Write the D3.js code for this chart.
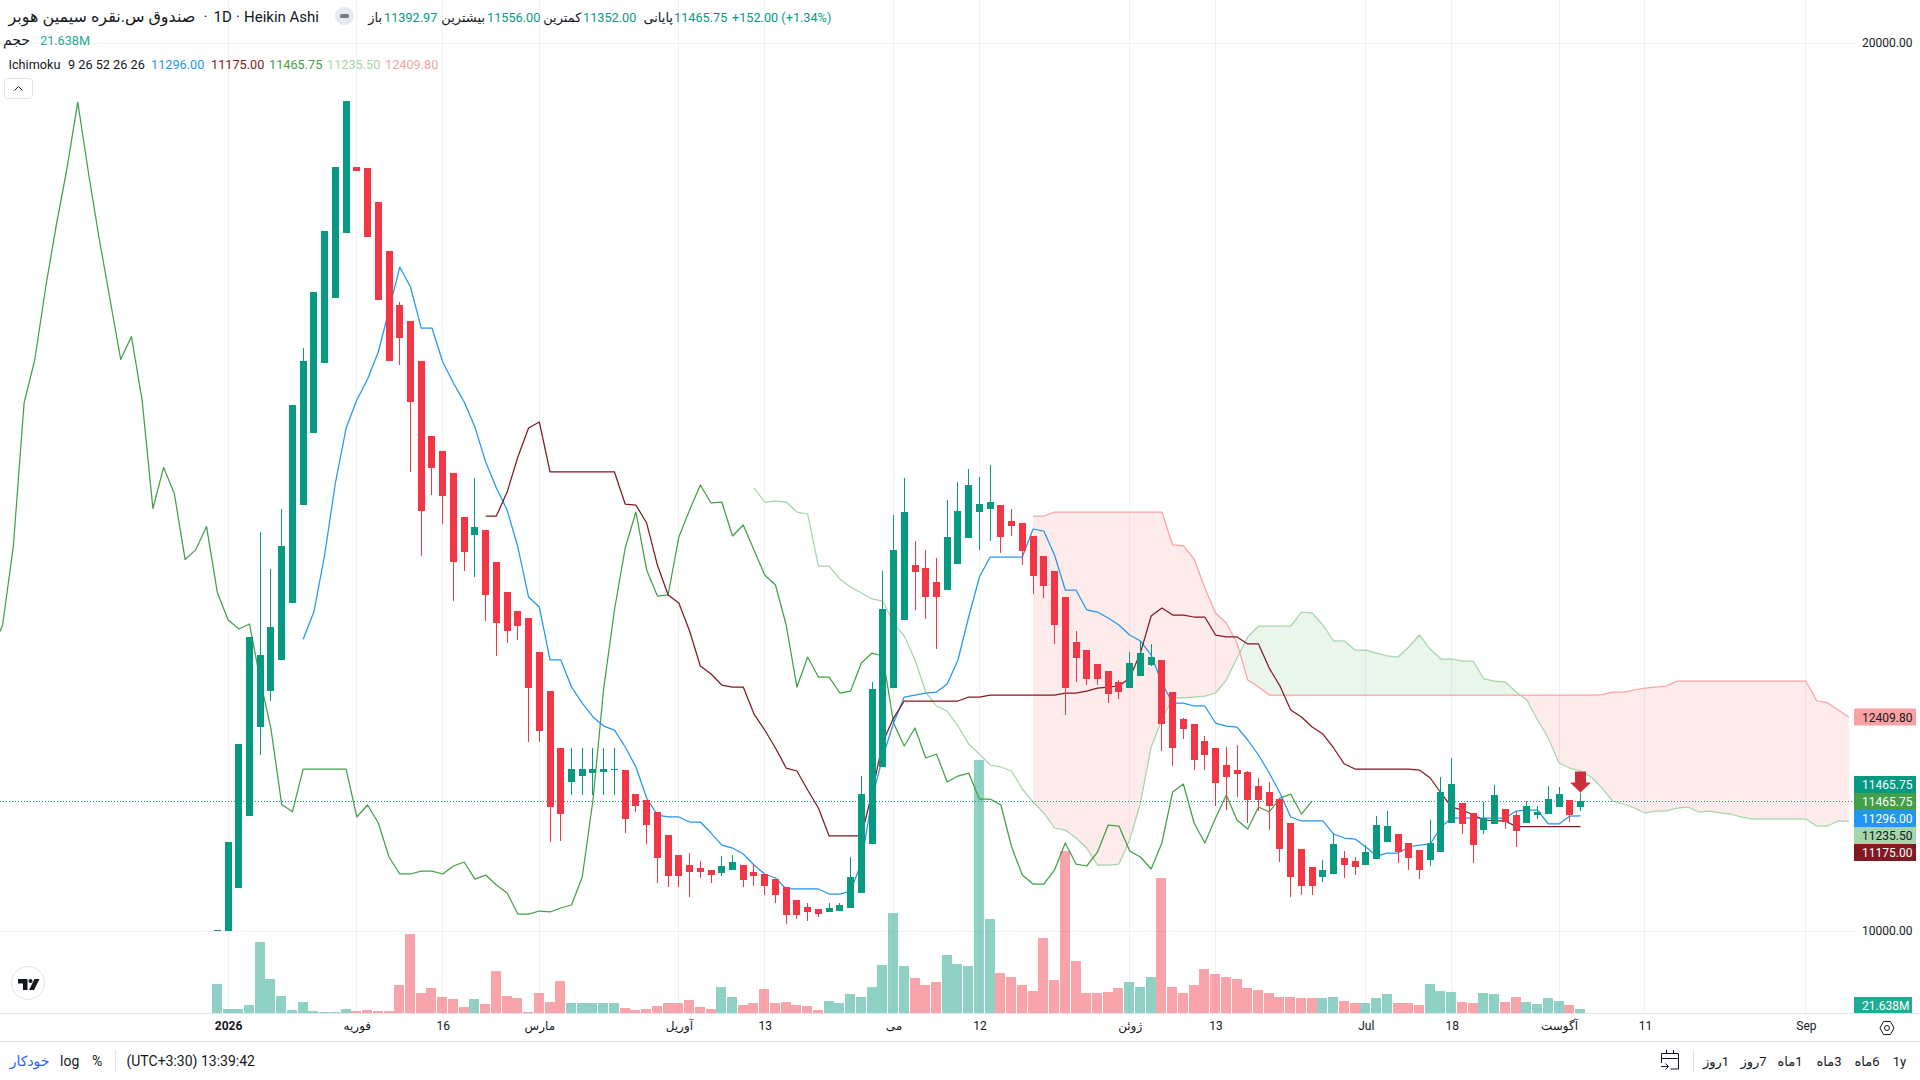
<html>
<head>
    <meta charset="utf-8">
    <script src="https://d3js.org/d3.v7.min.js"></script>
    <style type="text/css">
        html, body { margin: 0; padding: 0; background: #fff; overflow: hidden; }
        svg { display: block; }
        text { font-family: Roboto, "DejaVu Sans", sans-serif; fill: #131722; }
        .axis path { display: none; }
        .axis text { font-size: 12px; }
    </style>
</head>
<body>
    <script type="text/javascript">
        // heikin ashi candles, index 0 is the last bar of december
        var candleOpen = [10000,10000,10484,11295,12300,12706,13055,13697,14797,15611,16400,17131,17863,18603,18592,18209,17657,17049,16869,16419,15574,15405,15157,14662,14463,14516,14155,13817,13603,13525,13142,12702,12061,11681,11749,11779,11794,11813,11813,11542,11475,11340,11081,10856,10743,10706,10687,10656,10690,10743,10664,10642,10585,10495,10349,10270,10247,10217,10228,10259,10431,10983,11850,12740,13505,14121,14088,13930,13843,14136,14429,14722,14752,14797,14617,14594,14448,14223,14054,13761,13254,13164,13007,12928,12804,12740,12875,12995,13052,12691,12387,12331,12139,12061,11869,11813,11790,11633,11565,11486,11216,10923,10720,10608,10642,10822,10788,10743,10811,11002,11092,10991,10912,10799,10889,11216,11441,11329,11137,11205,11374,11306,11216,11306,11317,11396,11475,11392.97];
        var candleHigh = [10011,11002,12106,13311,14493,14076,14752,15923,16565,17196,17883,18603,19347,18603,18592,18209,17657,17083,16869,16419,15574,15405,15157,14662,15101,14516,14155,13817,13603,13525,13142,12702,12061,12061,12061,12061,12061,12061,11813,11542,11475,11340,11081,10856,10878,10788,10687,10844,10856,10743,10754,10642,10585,10495,10349,10315,10247,10315,10315,10833,11745,12804,14054,14684,15101,14392,14290,14200,14853,15056,15202,15112,15247,14797,14752,14594,14448,14223,14054,13761,13378,13164,13007,12928,12826,13142,13266,13232,13052,12691,12398,12331,12196,12061,12072,12094,11802,11723,11678,11486,11216,10923,10720,10799,11103,10901,10833,10968,11295,11351,11092,10991,10912,11250,11734,11948,11441,11329,11452,11644,11374,11351,11464,11407,11633,11621,11475,11556];
        var candleLow = [10000,10000,10484,11295,11982,12593,13055,13697,14797,15611,16400,17131,17863,18562,17818,17109,16422,16377,15172,14226,14913,14586,13719,14057,13990,13494,13100,13243,13277,12132,12132,11005,11017,11531,11531,11531,11531,11531,11107,11343,10983,10544,10499,10499,10386,10600,10544,10622,10690,10499,10510,10409,10318,10079,10138,10112,10157,10217,10228,10259,10431,10983,11850,12740,13505,13615,13513,13175,13843,14136,14429,14294,14395,14260,14448,14125,13798,13753,13235,12436,12807,12773,12773,12571,12616,12740,12875,12984,12030,11861,12165,11813,11813,11407,11362,11509,11216,11351,11137,10777,10383,10405,10405,10551,10642,10597,10630,10743,10811,11002,10765,10687,10585,10732,10889,11216,11092,10765,11092,11205,11148,10946,11216,11261,11317,11396,11227,11352];
        var candleClose = [10011,11002,12106,13311,13108,13423,14335,15923,16419,17196,17883,18603,19347,18562,17818,17109,16422,16681,15960,14733,15217,14902,14159,14271,14549,13787,13472,13382,13438,12740,12255,11399,11321,11824,11824,11824,11824,11824,11264,11411,11197,10825,10622,10622,10667,10667,10630,10732,10777,10577,10622,10510,10409,10183,10183,10217,10195,10259,10293,10608,11542,12725,13626,14290,14718,14043,13764,13764,14437,14729,15022,14808,14831,14440,14561,14282,14001,13888,13449,12740,13077,12841,12841,12672,12694,13018,13130,13085,12334,12064,12278,11925,11982,11666,11734,11768,11475,11475,11407,10923,10608,10506,10506,10687,10979,10743,10720,10889,11193,11182,10889,10822,10687,10991,11565,11655,11205,10968,11272,11531,11227,11126,11407,11340,11486,11542,11306,11465.75];
        // volume in millions
        var volume = [147,22,22,42,357,172,87,17,57,12,7,7,22,12,17,12,12,142,397,102,127,82,72,32,72,47,212,87,77,7,102,57,162,52,52,52,52,52,27,17,22,37,52,52,67,30,20,130,80,40,50,120,50,55,40,37,17,62,52,97,82,132,242,502,237,177,142,157,292,247,237,1265,472,202,182,142,112,377,167,812,262,102,102,107,127,157,132,182,677,132,102,142,222,197,182,172,127,117,102,82,82,77,77,77,82,62,52,52,77,97,52,52,42,147,112,107,57,52,102,97,57,82,57,47,77,62,42,21.638];

        // ichimoku, each line has its own first bar index
        var tenkanStart = 8;
        var tenkan = [13285,13595,14234,15045,15664,15979,16216,16520,16993,17477,17252,16790,16790,16407,16171,15957,15675,15281,14989,14741,14324,13761,13648,13052,13052,12747,12567,12410,12308,12263,12072,11847,11497,11306,11284,11284,11227,11227,11103,10968,10934,10867,10743,10642,10597,10473,10473,10473,10473,10416,10416,10450,10765,11497,11959,12342,12635,12657,12680,12691,12781,13052,13536,13986,14211,14211,14211,14211,14527,14504,14234,13840,13840,13615,13592,13525,13446,13333,13266,13108,12793,12567,12567,12534,12534,12342,12308,12297,12151,11982,11779,11554,11284,11239,11239,11239,11092,11047,11036,10946,10844,10878,10878,10946,10968,10979,11171,11272,11272,11272,11272,11272,11272,11351,11362,11362,11205,11205,11295,11296];
        var kijunStart = 25;
        var kijun = [14673,14673,14943,15338,15664,15732,15169,15169,15169,15169,15169,15169,15169,14808,14797,14594,14121,13784,13693,13378,12984,12894,12770,12747,12747,12443,12263,12061,11835,11802,11588,11385,11070,11070,11070,11070,11554,12128,12398,12590,12590,12590,12590,12590,12590,12635,12635,12657,12657,12657,12657,12657,12657,12657,12680,12680,12702,12736,12747,12759,12849,13130,13547,13637,13558,13558,13536,13536,13333,13311,13311,13232,13232,12961,12759,12489,12410,12297,12218,12061,11880,11824,11824,11824,11824,11824,11824,11813,11723,11554,11396,11362,11306,11250,11239,11239,11175,11175,11175,11175,11175,11175,11175];
        var chikouStart = -21;
        var chikou = [13164,13446,14335,15946,16436,17241,17950,18592,19335,18536,17793,17117,16436,16695,15973,14758,15221,14924,14183,14295,14554,13813,13504,13401,13457,12826,12275,11424,11344,11824,11824,11824,11824,11824,11284,11419,11216,10833,10642,10642,10675,10675,10642,10732,10777,10585,10630,10518,10428,10191,10191,10225,10214,10259,10293,10608,11475,12736,13615,14313,14718,14065,13772,13784,14437,14741,15022,14820,14831,14448,14572,14290,14009,13896,13446,12747,13085,12860,12860,12680,12702,13018,13130,13097,12342,12083,12286,11948,11993,11678,11745,11779,11486,11486,11419,10946,10630,10529,10529,10687,10991,10754,10732,10889,11193,11182,10901,10833,10698,10991,11565,11655,11216,10991,11272,11531,11250,11148,11396,11340,11497,11542,11317,11465.75];
        var senkouAStart = 50;
        var senkouA = [14989,14831,14842,14831,14718,14696,14110,14110,13964,13874,13806,13739,13716,13468,13322,13052,12691,12534,12477,12308,12106,11993,11869,11847,11802,11599,11452,11329,11160,11137,11047,10934,10743,10743,10754,11025,11441,12072,12376,12624,12624,12635,12646,12680,12826,13074,13311,13434,13434,13434,13434,13592,13581,13446,13266,13266,13164,13164,13130,13097,13085,13198,13333,13175,13063,13063,13040,13040,12838,12815,12804,12691,12601,12376,12173,11892,11835,11802,11734,11610,11464,11430,11385,11329,11351,11351,11385,11396,11340,11351,11329,11317,11284,11261,11261,11261,11261,11261,11261,11182,11182,11239,11235.5];
        var senkouBStart = 76;
        var senkouB = [14673,14673,14718,14718,14718,14718,14718,14718,14718,14718,14718,14718,14718,14347,14336,14189,13862,13581,13468,13243,12826,12747,12657,12657,12657,12657,12657,12657,12657,12657,12657,12657,12657,12657,12657,12657,12657,12657,12657,12657,12657,12657,12657,12657,12657,12657,12657,12657,12657,12657,12657,12657,12657,12661,12691,12691,12714,12736,12747,12759,12815,12815,12815,12815,12815,12815,12815,12815,12815,12815,12815,12815,12815,12593,12571,12488,12409.8];

        // time axis labels
        var tickBars = [1,13,21,30,43,51,63,71,85,93,107,115,125,133,148];
        var tickLabels = ["2026","فوریه","16","مارس","آوریل","13","می","12","ژوئن","13","Jul","18","آگوست","11","Sep"];
        var priceTicks = [20000,10000];
        var rangeButtons = [["1روز",1716],["7روز",1753.5],["1ماه",1790],["3ماه",1829],["6ماه",1867],["1y",1899.5]];

        var lastPrice = 11465.75;
        var green = "#089981", red = "#F23645";
        var colTenkan = "#2196F3", colKijun = "#801922", colChikou = "#43A047", colA = "#A5D6A7", colB = "#FAA1A4";
        var paneRight = 1854, paneBottom = 1013.5;

        var svg = d3.select("body").append("svg").attr("width", 1920).attr("height", 1080);

        var x = d3.scaleLinear().domain([0, 127]).range([216.8, 1580]);
        var y = d3.scaleLinear().domain([10000, 20000]).range([931, 43]);
        var yVol = d3.scaleLinear().domain([0, 1265]).range([1013, 760]);
        var bars = d3.range(candleOpen.length);
        function isUp(i) { return candleClose[i] >= candleOpen[i]; }
        function cx(i) { return Math.round(x(i)); }

        // grid
        var grid = svg.append("g").attr("stroke", "#f0f1f5").attr("stroke-width", 1);
        grid.selectAll(".v").data(tickBars).enter().append("line")
            .attr("x1", function (d) { return cx(d) + 0.5; }).attr("x2", function (d) { return cx(d) + 0.5; })
            .attr("y1", 0).attr("y2", paneBottom);
        grid.selectAll(".h").data(priceTicks).enter().append("line")
            .attr("x1", 0).attr("x2", paneRight)
            .attr("y1", function (d) { return Math.round(y(d)) + 0.5; }).attr("y2", function (d) { return Math.round(y(d)) + 0.5; });

        // volume
        svg.append("g").attr("shape-rendering", "crispEdges").selectAll("rect").data(bars).enter().append("rect")
            .attr("x", function (i) { return cx(i) - 5; })
            .attr("width", 10)
            .attr("y", function (i) { return yVol(volume[i]); })
            .attr("height", function (i) { return yVol(0) - yVol(volume[i]); })
            .attr("fill", function (i) { return isUp(i) ? green : red; })
            .attr("fill-opacity", 0.45);

        // cloud, cut where the two spans cross
        function series(values, start) {
            return values.map(function (v, k) { return {i: start + k, v: v}; });
        }
        var spanA = series(senkouA, senkouAStart), spanB = series(senkouB, senkouBStart);
        var pairs = spanB.map(function (d) {
            return {i: d.i, a: senkouA[d.i - senkouAStart], b: d.v};
        });
        var parts = [], part = [pairs[0]];
        for (var k = 1; k < pairs.length; k++) {
            var p = pairs[k - 1], q = pairs[k];
            if ((p.a - p.b) * (q.a - q.b) < 0) {
                var t = (p.a - p.b) / ((p.a - p.b) - (q.a - q.b));
                var cross = {i: p.i + t, a: p.a + t * (q.a - p.a), b: p.a + t * (q.a - p.a)};
                part.push(cross);
                parts.push(part);
                part = [cross];
            }
            part.push(q);
        }
        parts.push(part);
        var cloud = d3.area()
            .x(function (d) { return x(d.i) + 0.5; })
            .y0(function (d) { return y(d.a); })
            .y1(function (d) { return y(d.b); });
        svg.append("g").selectAll("path").data(parts).enter().append("path")
            .attr("d", cloud)
            .attr("fill", function (d) { return d3.sum(d, function (e) { return e.a - e.b; }) > 0 ? colChikou : red; })
            .attr("fill-opacity", function (d) { return d3.sum(d, function (e) { return e.a - e.b; }) > 0 ? 0.11 : 0.1; });

        // ichimoku lines
        var line = d3.line()
            .x(function (d) { return x(d.i) + 0.5; })
            .y(function (d) { return y(d.v); });
        var lines = [
            [spanA, colA], [spanB, colB],
            [series(chikou, chikouStart), colChikou],
            [series(tenkan, tenkanStart), colTenkan],
            [series(kijun, kijunStart), colKijun]
        ];
        svg.append("g").selectAll("path").data(lines).enter().append("path")
            .attr("d", function (d) { return line(d[0]); })
            .attr("fill", "none")
            .attr("stroke", function (d) { return d[1]; })
            .attr("stroke-width", 1.25)
            .attr("stroke-linejoin", "round");

        // last price line
        svg.append("line").attr("x1", 0).attr("x2", paneRight)
            .attr("y1", Math.round(y(lastPrice)) + 0.5).attr("y2", Math.round(y(lastPrice)) + 0.5)
            .attr("stroke", green).attr("stroke-dasharray", "1 2");

        // candles
        var candle = svg.append("g").attr("shape-rendering", "crispEdges").selectAll("g").data(bars).enter().append("g")
            .attr("fill", function (i) { return isUp(i) ? green : red; });
        candle.append("rect")
            .attr("x", function (i) { return cx(i); })
            .attr("width", 1)
            .attr("y", function (i) { return y(candleHigh[i]); })
            .attr("height", function (i) { return y(candleLow[i]) - y(candleHigh[i]); });
        candle.append("rect")
            .attr("x", function (i) { return cx(i) - 3; })
            .attr("width", 7)
            .attr("y", function (i) { return y(Math.max(candleOpen[i], candleClose[i])); })
            .attr("height", function (i) { return Math.max(1, Math.abs(y(candleOpen[i]) - y(candleClose[i]))); });

        // sell arrow on the last bar
        var ax = cx(127) + 0.5;
        svg.append("path")
            .attr("d", "M" + (ax - 5.5) + ",771.5h11v11h5l-10.5,10l-10.5,-10h5z")
            .attr("fill", "#cb2e3d");

        // time axis
        var xAxis = d3.axisBottom(x).tickValues(tickBars).tickSize(0).tickPadding(8)
            .tickFormat(function (d, n) { return tickLabels[n]; });
        var gx = svg.append("g").attr("class", "axis").attr("transform", "translate(0.5," + paneBottom + ")").call(xAxis);
        gx.selectAll("text").attr("fill", null).style("fill", "#131722")
            .style("font-weight", function (d) { return d == 1 ? "bold" : null; });
        svg.append("line").attr("x1", 0).attr("x2", 1920).attr("y1", 1013.5).attr("y2", 1013.5).attr("stroke", "#e0e3eb");
        svg.append("line").attr("x1", 0).attr("x2", 1920).attr("y1", 1041.5).attr("y2", 1041.5).attr("stroke", "#e0e3eb");

        // price axis
        var yAxis = d3.axisRight(y).tickValues(priceTicks).tickSize(0).tickPadding(0)
            .tickFormat(function (d) { return d3.format(".2f")(d); });
        var gy = svg.append("g").attr("class", "axis").attr("transform", "translate(1862,0)").call(yAxis);
        gy.selectAll("text").style("fill", "#131722");

        // price labels
        var priceBoxes = [
            [d3.format(".2f")(senkouB[senkouB.length - 1]), colB, "#131722", y(senkouB[senkouB.length - 1])],
            [d3.format(".2f")(lastPrice), green, "#fff", 784.5],
            [d3.format(".2f")(chikou[chikou.length - 1]), colChikou, "#fff", 801.5],
            [d3.format(".2f")(tenkan[tenkan.length - 1]), colTenkan, "#fff", 818.5],
            [d3.format(".2f")(senkouA[senkouA.length - 1]), colA, "#131722", 835.5],
            [d3.format(".2f")(kijun[kijun.length - 1]), colKijun, "#fff", 852.5]
        ];
        var box = svg.append("g").selectAll("g").data(priceBoxes).enter().append("g")
            .attr("transform", function (d) { return "translate(1854," + d[3] + ")"; });
        box.append("rect").attr("x", 0).attr("y", -8.5).attr("width", 62).attr("height", 17)
            .attr("fill", function (d) { return d[1]; });
        box.append("text").attr("x", 8).attr("y", 4.5).attr("font-size", 12)
            .style("fill", function (d) { return d[2]; })
            .text(function (d) { return d[0]; });
        svg.append("rect").attr("x", 1854).attr("y", 997).attr("width", 58).attr("height", 16).attr("fill", "#22ab94");
        svg.append("text").attr("x", 1862).attr("y", 1009.5).attr("font-size", 12).style("fill", "#fff").text("21.638M");

        // legend
        function label(text, px, py, color, anchor, size) {
            return svg.append("text").attr("x", px).attr("y", py)
                .attr("text-anchor", anchor || "start")
                .attr("font-size", size || 12.7)
                .style("fill", color || "#131722")
                .text(text);
        }
        label("صندوق س.نقره سیمین هوبر", 8.5, 22, "#131722", "start", 16).attr("direction", "rtl").attr("text-anchor", "end");
        label("·", 205.5, 22, "#131722", "middle", 15);
        label("1D", 213.5, 22, "#131722", "start", 15);
        label("·", 238, 22, "#131722", "middle", 15);
        label("Heikin Ashi", 244, 22, "#131722", "start", 15);
        svg.append("rect").attr("x", 335).attr("y", 7).attr("width", 19).attr("height", 18).attr("rx", 9).attr("fill", "#e8e9ee");
        svg.append("rect").attr("x", 340).attr("y", 14).attr("width", 9).attr("height", 4).attr("rx", 1.5).attr("fill", "#787b86");

        var ohlc = [
            ["باز", 382, "11392.97", 384],
            ["بیشترین", 485, "11556.00", 487],
            ["کمترین", 581.5, "11352.00", 583],
            ["پایانی", 673, "11465.75", 674]
        ];
        ohlc.forEach(function (d) {
            label(d[0], d[1], 22, "#131722", "end", 13);
            label(d[2], d[3], 22, green);
        });
        label("+152.00 (+1.34%)", 732, 22, green);
        label("حجم", 30, 45, "#131722", "end", 14);
        label("21.638M", 40, 45, "#22ab94");
        label("Ichimoku", 8.5, 69, "#131722");
        label("9 26 52 26 26", 68, 69, "#131722");
        label("11296.00", 151, 69, colTenkan);
        label("11175.00", 211, 69, colKijun);
        label("11465.75", 269, 69, colChikou);
        label("11235.50", 327, 69, colA);
        label("12409.80", 385, 69, colB);

        // collapse button
        svg.append("rect").attr("x", 4.5).attr("y", 78.5).attr("width", 28).attr("height", 20).attr("rx", 3)
            .attr("fill", "#fff").attr("stroke", "#e0e3eb");
        svg.append("path").attr("d", "M14.5,90.5l4,-4l4,4").attr("fill", "none").attr("stroke", "#131722");

        // logo
        svg.append("circle").attr("cx", 28).attr("cy", 983).attr("r", 16.5).attr("fill", "#fff").attr("stroke", "#e0e3eb");
        svg.append("path").attr("d", "M18,979h9.5v11h-4.5v-6.5h-5z M34.5,979h5l-5.5,11h-5z").attr("fill", "#131722");
        svg.append("circle").attr("cx", 30.5).attr("cy", 981).attr("r", 2).attr("fill", "#131722");

        // settings icon
        svg.append("path").attr("d", "M1880,1028l3.5,-6.5h7l3.5,6.5l-3.5,6.5h-7z").attr("fill", "none").attr("stroke", "#131722");
        svg.append("circle").attr("cx", 1887).attr("cy", 1028).attr("r", 2.5).attr("fill", "none").attr("stroke", "#131722");

        // bottom bar
        label("خودکار", 49.5, 1066, "#2962FF", "end", 14);
        label("log", 60, 1066, "#131722", "start", 14);
        label("%", 92, 1066, "#131722", "start", 14);
        svg.append("line").attr("x1", 115.5).attr("x2", 115.5).attr("y1", 1050).attr("y2", 1072).attr("stroke", "#e0e3eb");
        label("(UTC+3:30) 13:39:42", 126.5, 1066, "#131722", "start", 14);
        svg.append("line").attr("x1", 1693.5).attr("x2", 1693.5).attr("y1", 1050).attr("y2", 1072).attr("stroke", "#e0e3eb");
        svg.append("path").attr("d", "M1661.5,1063v-9.5h17v15.5h-8 M1661.5,1058.5h17 M1666.5,1053v-3 M1673.5,1053v-3 M1661,1066.5h7 M1665.5,1063.5l3,3l-3,3")
            .attr("fill", "none").attr("stroke", "#131722");
        svg.append("g").selectAll("text").data(rangeButtons).enter().append("text")
            .attr("x", function (d) { return d[1]; })
            .attr("y", 1066)
            .attr("font-size", 13)
            .attr("direction", "rtl")
            .attr("text-anchor", "middle")
            .text(function (d) { return d[0]; });
    </script>
</body>
</html>
